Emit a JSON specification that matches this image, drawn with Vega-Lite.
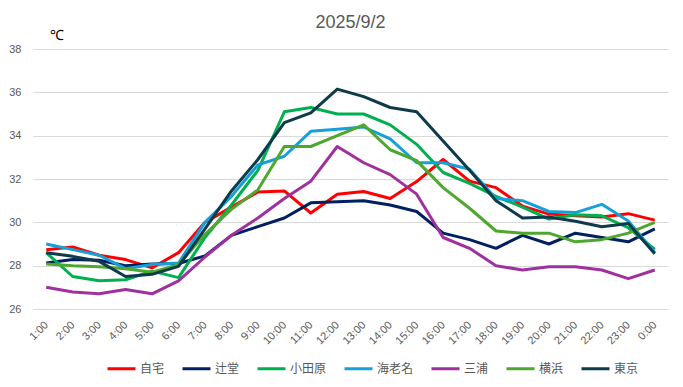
{
  "$schema": "https://vega.github.io/schema/vega-lite/v6.json",
  "width": 635,
  "height": 260,
  "autosize": {"type": "none"},
  "padding": {"left": 33, "top": 49, "right": 15, "bottom": 78},
  "background": "#ffffff",
  "title": {"text": "2025/9/2", "frame": "group", "anchor": "middle", "orient": "top", "offset": -18, "baseline": "alphabetic", "fontSize": 18, "fontWeight": "normal", "font": "Liberation Sans", "color": "#595959"},
  "config": {"view": {"stroke": null}, "font": "Liberation Sans"},
  "data": {"values": [
    {"t":"1:00","s":"自宅","v":28.74},{"t":"2:00","s":"自宅","v":28.86},{"t":"3:00","s":"自宅","v":28.48},{"t":"4:00","s":"自宅","v":28.28},{"t":"5:00","s":"自宅","v":27.9},{"t":"6:00","s":"自宅","v":28.6},{"t":"7:00","s":"自宅","v":30.0},{"t":"8:00","s":"自宅","v":30.7},{"t":"9:00","s":"自宅","v":31.4},{"t":"10:00","s":"自宅","v":31.45},{"t":"11:00","s":"自宅","v":30.43},{"t":"12:00","s":"自宅","v":31.3},{"t":"13:00","s":"自宅","v":31.42},{"t":"14:00","s":"自宅","v":31.1},{"t":"15:00","s":"自宅","v":31.88},{"t":"16:00","s":"自宅","v":32.9},{"t":"17:00","s":"自宅","v":31.9},{"t":"18:00","s":"自宅","v":31.6},{"t":"19:00","s":"自宅","v":30.75},{"t":"20:00","s":"自宅","v":30.38},{"t":"21:00","s":"自宅","v":30.3},{"t":"22:00","s":"自宅","v":30.25},{"t":"23:00","s":"自宅","v":30.4},{"t":"0:00","s":"自宅","v":30.1},
    {"t":"1:00","s":"辻堂","v":28.12},{"t":"2:00","s":"辻堂","v":28.28},{"t":"3:00","s":"辻堂","v":28.25},{"t":"4:00","s":"辻堂","v":28.0},{"t":"5:00","s":"辻堂","v":28.08},{"t":"6:00","s":"辻堂","v":28.1},{"t":"7:00","s":"辻堂","v":28.45},{"t":"8:00","s":"辻堂","v":29.4},{"t":"9:00","s":"辻堂","v":29.8},{"t":"10:00","s":"辻堂","v":30.2},{"t":"11:00","s":"辻堂","v":30.9},{"t":"12:00","s":"辻堂","v":30.95},{"t":"13:00","s":"辻堂","v":31.0},{"t":"14:00","s":"辻堂","v":30.8},{"t":"15:00","s":"辻堂","v":30.5},{"t":"16:00","s":"辻堂","v":29.5},{"t":"17:00","s":"辻堂","v":29.2},{"t":"18:00","s":"辻堂","v":28.8},{"t":"19:00","s":"辻堂","v":29.4},{"t":"20:00","s":"辻堂","v":29.0},{"t":"21:00","s":"辻堂","v":29.5},{"t":"22:00","s":"辻堂","v":29.3},{"t":"23:00","s":"辻堂","v":29.1},{"t":"0:00","s":"辻堂","v":29.7},
    {"t":"1:00","s":"小田原","v":28.6},{"t":"2:00","s":"小田原","v":27.5},{"t":"3:00","s":"小田原","v":27.3},{"t":"4:00","s":"小田原","v":27.35},{"t":"5:00","s":"小田原","v":27.75},{"t":"6:00","s":"小田原","v":27.45},{"t":"7:00","s":"小田原","v":29.3},{"t":"8:00","s":"小田原","v":30.8},{"t":"9:00","s":"小田原","v":32.4},{"t":"10:00","s":"小田原","v":35.1},{"t":"11:00","s":"小田原","v":35.3},{"t":"12:00","s":"小田原","v":35.0},{"t":"13:00","s":"小田原","v":35.0},{"t":"14:00","s":"小田原","v":34.5},{"t":"15:00","s":"小田原","v":33.6},{"t":"16:00","s":"小田原","v":32.3},{"t":"17:00","s":"小田原","v":31.8},{"t":"18:00","s":"小田原","v":31.2},{"t":"19:00","s":"小田原","v":30.7},{"t":"20:00","s":"小田原","v":30.15},{"t":"21:00","s":"小田原","v":30.35},{"t":"22:00","s":"小田原","v":30.3},{"t":"23:00","s":"小田原","v":29.75},{"t":"0:00","s":"小田原","v":28.75},
    {"t":"1:00","s":"海老名","v":29.0},{"t":"2:00","s":"海老名","v":28.74},{"t":"3:00","s":"海老名","v":28.48},{"t":"4:00","s":"海老名","v":27.86},{"t":"5:00","s":"海老名","v":28.05},{"t":"6:00","s":"海老名","v":28.12},{"t":"7:00","s":"海老名","v":30.0},{"t":"8:00","s":"海老名","v":31.2},{"t":"9:00","s":"海老名","v":32.65},{"t":"10:00","s":"海老名","v":33.05},{"t":"11:00","s":"海老名","v":34.2},{"t":"12:00","s":"海老名","v":34.3},{"t":"13:00","s":"海老名","v":34.4},{"t":"14:00","s":"海老名","v":33.85},{"t":"15:00","s":"海老名","v":32.75},{"t":"16:00","s":"海老名","v":32.75},{"t":"17:00","s":"海老名","v":32.45},{"t":"18:00","s":"海老名","v":31.1},{"t":"19:00","s":"海老名","v":31.0},{"t":"20:00","s":"海老名","v":30.5},{"t":"21:00","s":"海老名","v":30.45},{"t":"22:00","s":"海老名","v":30.83},{"t":"23:00","s":"海老名","v":30.06},{"t":"0:00","s":"海老名","v":28.6},
    {"t":"1:00","s":"三浦","v":27.0},{"t":"2:00","s":"三浦","v":26.78},{"t":"3:00","s":"三浦","v":26.7},{"t":"4:00","s":"三浦","v":26.9},{"t":"5:00","s":"三浦","v":26.7},{"t":"6:00","s":"三浦","v":27.3},{"t":"7:00","s":"三浦","v":28.4},{"t":"8:00","s":"三浦","v":29.4},{"t":"9:00","s":"三浦","v":30.2},{"t":"10:00","s":"三浦","v":31.1},{"t":"11:00","s":"三浦","v":31.9},{"t":"12:00","s":"三浦","v":33.5},{"t":"13:00","s":"三浦","v":32.75},{"t":"14:00","s":"三浦","v":32.2},{"t":"15:00","s":"三浦","v":31.3},{"t":"16:00","s":"三浦","v":29.3},{"t":"17:00","s":"三浦","v":28.8},{"t":"18:00","s":"三浦","v":28.0},{"t":"19:00","s":"三浦","v":27.8},{"t":"20:00","s":"三浦","v":27.95},{"t":"21:00","s":"三浦","v":27.95},{"t":"22:00","s":"三浦","v":27.8},{"t":"23:00","s":"三浦","v":27.4},{"t":"0:00","s":"三浦","v":27.8},
    {"t":"1:00","s":"横浜","v":28.08},{"t":"2:00","s":"横浜","v":28.0},{"t":"3:00","s":"横浜","v":27.95},{"t":"4:00","s":"横浜","v":27.86},{"t":"5:00","s":"横浜","v":27.7},{"t":"6:00","s":"横浜","v":28.05},{"t":"7:00","s":"横浜","v":29.45},{"t":"8:00","s":"横浜","v":30.6},{"t":"9:00","s":"横浜","v":31.5},{"t":"10:00","s":"横浜","v":33.5},{"t":"11:00","s":"横浜","v":33.5},{"t":"12:00","s":"横浜","v":34.0},{"t":"13:00","s":"横浜","v":34.5},{"t":"14:00","s":"横浜","v":33.35},{"t":"15:00","s":"横浜","v":32.85},{"t":"16:00","s":"横浜","v":31.6},{"t":"17:00","s":"横浜","v":30.65},{"t":"18:00","s":"横浜","v":29.6},{"t":"19:00","s":"横浜","v":29.5},{"t":"20:00","s":"横浜","v":29.5},{"t":"21:00","s":"横浜","v":29.1},{"t":"22:00","s":"横浜","v":29.2},{"t":"23:00","s":"横浜","v":29.5},{"t":"0:00","s":"横浜","v":30.0},
    {"t":"1:00","s":"東京","v":28.6},{"t":"2:00","s":"東京","v":28.43},{"t":"3:00","s":"東京","v":28.2},{"t":"4:00","s":"東京","v":27.5},{"t":"5:00","s":"東京","v":27.6},{"t":"6:00","s":"東京","v":27.97},{"t":"7:00","s":"東京","v":29.7},{"t":"8:00","s":"東京","v":31.45},{"t":"9:00","s":"東京","v":32.9},{"t":"10:00","s":"東京","v":34.6},{"t":"11:00","s":"東京","v":35.05},{"t":"12:00","s":"東京","v":36.15},{"t":"13:00","s":"東京","v":35.8},{"t":"14:00","s":"東京","v":35.3},{"t":"15:00","s":"東京","v":35.1},{"t":"16:00","s":"東京","v":33.75},{"t":"17:00","s":"東京","v":32.4},{"t":"18:00","s":"東京","v":31.0},{"t":"19:00","s":"東京","v":30.2},{"t":"20:00","s":"東京","v":30.25},{"t":"21:00","s":"東京","v":30.05},{"t":"22:00","s":"東京","v":29.8},{"t":"23:00","s":"東京","v":29.95},{"t":"0:00","s":"東京","v":28.55}
  ]},
  "mark": {"type": "line", "strokeWidth": 3, "strokeJoin": "round"},
  "encoding": {
    "x": {
      "field": "t", "type": "ordinal",
      "scale": {"type": "point", "padding": 0.5, "domain": ["1:00","2:00","3:00","4:00","5:00","6:00","7:00","8:00","9:00","10:00","11:00","12:00","13:00","14:00","15:00","16:00","17:00","18:00","19:00","20:00","21:00","22:00","23:00","0:00"]},
      "axis": {"title": null, "grid": false, "domain": false, "ticks": false, "tickSize": 0, "labelAngle": -45, "labelAlign": "right", "labelBaseline": "middle", "labelPadding": 14, "labelFontSize": 11, "labelColor": "#595959", "labelOverlap": false, "labelFont": "Liberation Sans"}
    },
    "y": {
      "field": "v", "type": "quantitative",
      "scale": {"domain": [26, 38], "nice": false, "zero": false},
      "axis": {"values": [26,28,30,32,34,36,38], "grid": true, "gridColor": "#d9d9d9", "gridWidth": 1, "domain": false, "ticks": false, "tickSize": 0, "labelPadding": 12, "labelFontSize": 11, "labelColor": "#595959", "labelFont": "Liberation Sans",
        "title": "℃", "titleAngle": 0, "titleX": 23, "titleY": -10, "titleAlign": "center", "titleBaseline": "alphabetic", "titleFontSize": 14, "titleFontWeight": "normal", "titleColor": "#000000", "titleFont": "Liberation Sans"}
    },
    "color": {
      "field": "s", "type": "nominal",
      "scale": {"domain": ["自宅","辻堂","小田原","海老名","三浦","横浜","東京"], "range": ["#ff0000","#002060","#00b050","#14a0da","#a0309e","#4ea72e","#0e3a4a"]},
      "legend": {"title": null, "orient": "none", "legendX": 73, "legendY": 304, "direction": "horizontal", "columns": 7, "symbolType": "stroke", "symbolSize": 784, "symbolStrokeWidth": 3, "labelOffset": 3, "columnPadding": 11, "padding": 0, "labelFontSize": 12, "labelColor": "#595959", "labelFont": "Noto Sans CJK JP"}
    }
  }
}
